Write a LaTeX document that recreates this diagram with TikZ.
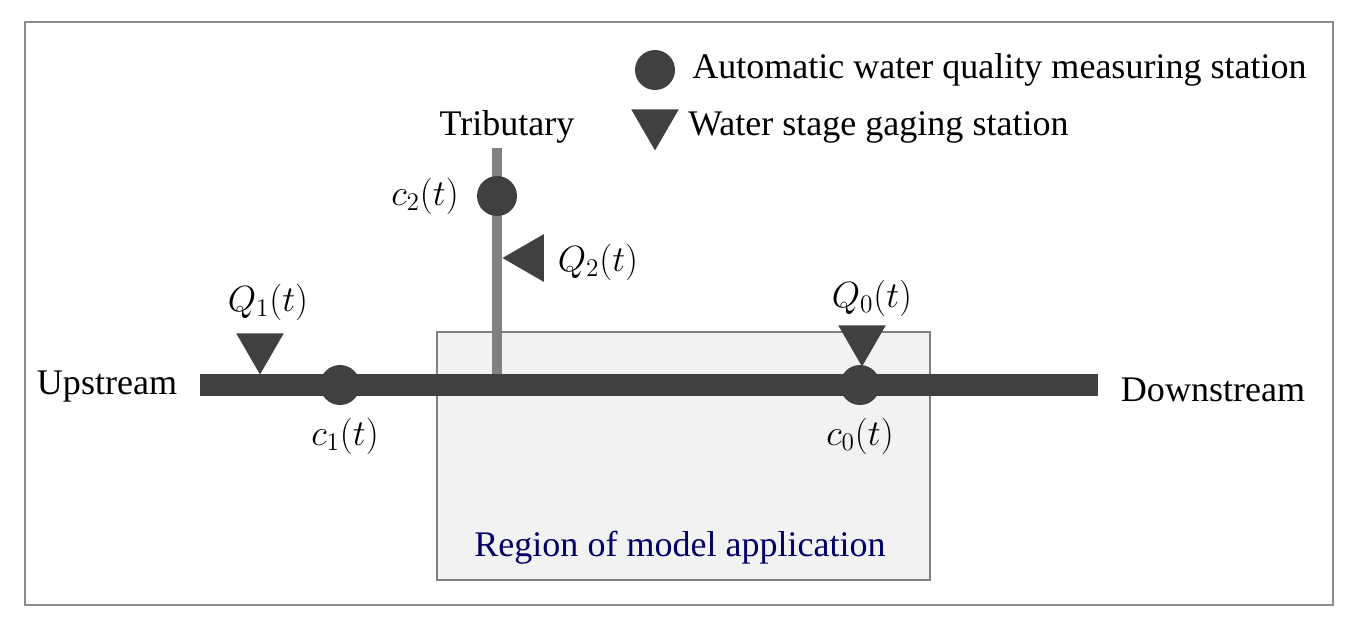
\documentclass[tikz,border=0pt]{standalone}
\usepackage{fontspec}
\setmainfont{Liberation Serif}
\usetikzlibrary{shapes.geometric}
\begin{document}
\begin{tikzpicture}[x=0.02cm,y=-0.02cm,
  lbl/.style={font=\fontsize{20.5}{23}\selectfont, inner sep=0pt},
  dot/.style={circle, fill=black!75, minimum size=0.8cm, inner sep=0pt},
  tri/.style={regular polygon, regular polygon sides=3, fill=black!75, minimum size=1.1cm, inner sep=0pt}]
\useasboundingbox (0,0) rectangle (1359,636);
\draw[black!45, line width=1pt] (25,22) rectangle (1333,605);
\draw[black!50, fill=black!5, line width=1pt] (437,332) rectangle (930,580);
\coordinate (ua) at (200,385); \coordinate (ub) at (1098,385);
\coordinate (ta) at (497,148); \coordinate (tb) at (497,385);
\draw[black!50, line width=5.5pt] (ta) -- (tb);
\draw[black!75, line width=12pt] (ua) -- (ub);
\node[dot] (c2) at (497,196) {};
\node[dot] (c1) at (340,385) {};
\node[dot] (c0) at (860,385) {};
\node[tri, shape border rotate=180] (q1) at (260,347) {};
\node[tri, shape border rotate=180] (q0) at (862,339) {};
\node[tri, shape border rotate=90] (q2) at (530,258) {};
\node[dot] (ld) at (655,70) {};
\node[tri, shape border rotate=180] (lt) at (655,123) {};
\node[lbl] at (107,387) {Upstream};
\node[lbl] at (1213,390) {Downstream};
\node[lbl] at (507,127) {Tributary};
\node[lbl] at (425,196) {$c_2(t)$};
\node[lbl] at (598,262) {$Q_2(t)$};
\node[lbl] at (268,302) {$Q_1(t)$};
\node[lbl] at (872,298) {$Q_0(t)$};
\node[lbl] at (345,436) {$c_1(t)$};
\node[lbl] at (860,436) {$c_0(t)$};
\node[lbl, text=blue!40!black] at (680,548) {Region of model application};
\node[lbl, anchor=west] at (692,70) {Automatic water quality measuring station};
\node[lbl, anchor=west] at (688,127) {Water stage gaging station};
\end{tikzpicture}
\end{document}
